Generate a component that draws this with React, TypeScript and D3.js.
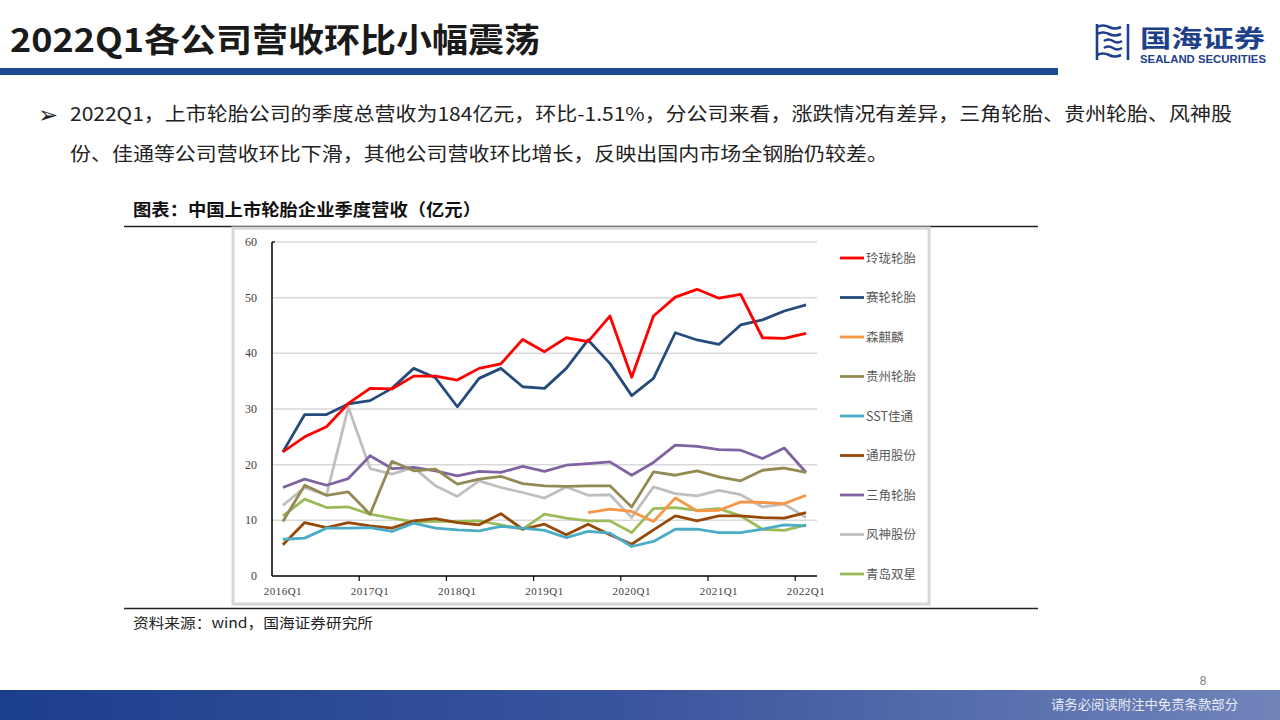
import React from "react";
import * as d3 from "d3";

const quarters: string[] = [
  "2016Q1","2016Q2","2016Q3","2016Q4",
  "2017Q1","2017Q2","2017Q3","2017Q4",
  "2018Q1","2018Q2","2018Q3","2018Q4",
  "2019Q1","2019Q2","2019Q3","2019Q4",
  "2020Q1","2020Q2","2020Q3","2020Q4",
  "2021Q1","2021Q2","2021Q3","2021Q4",
  "2022Q1",
];
const xTickLabels: string[] = ["2016Q1","2017Q1","2018Q1","2019Q1","2020Q1","2021Q1","2022Q1"];
const yTicks: number[] = [0, 10, 20, 30, 40, 50, 60];

const linglong: (number | null)[] = [22.3,25.0,26.8,31.0,33.7,33.6,35.9,35.9,35.2,37.3,38.1,42.5,40.3,42.8,42.1,46.7,35.7,46.7,50.1,51.5,49.9,50.6,42.8,42.7,43.6];
const sailun: (number | null)[] = [22.3,29.0,29.0,30.9,31.5,33.7,37.3,35.6,30.4,35.5,37.3,34.0,33.7,37.3,42.4,38.2,32.4,35.5,43.7,42.4,41.6,45.1,46.0,47.6,48.7];
const senqilin: (number | null)[] = [null,null,null,null,null,null,null,null,null,null,null,null,null,null,11.4,12.0,11.6,9.8,14.0,11.7,11.8,13.3,13.2,13.0,14.5];
const guizhou: (number | null)[] = [9.8,16.3,14.5,15.1,11.1,20.6,18.9,19.2,16.5,17.4,17.9,16.6,16.2,16.1,16.2,16.2,12.4,18.7,18.1,18.9,17.8,17.1,19.0,19.4,18.6];
const jiatong: (number | null)[] = [6.6,6.8,8.6,8.6,8.7,8.0,9.5,8.6,8.3,8.1,8.9,8.6,8.2,6.9,8.0,7.7,5.3,6.2,8.4,8.4,7.8,7.8,8.4,9.2,9.0];
const tongyong: (number | null)[] = [5.6,9.6,8.7,9.6,9.0,8.6,9.9,10.3,9.6,9.2,11.2,8.4,9.3,7.4,9.3,7.4,5.7,8.3,10.8,9.9,10.8,10.8,10.5,10.4,11.4];
const sanjiao: (number | null)[] = [15.9,17.4,16.3,17.5,21.6,19.3,19.5,18.9,18.0,18.8,18.6,19.7,18.8,19.9,20.2,20.5,18.1,20.4,23.5,23.3,22.7,22.6,21.1,23.0,18.6];
const fengshen: (number | null)[] = [12.7,15.9,14.5,30.3,19.3,18.3,19.5,16.2,14.3,17.1,15.9,15.0,14.0,16.0,14.5,14.6,10.5,16.0,14.8,14.4,15.4,14.6,12.4,12.9,10.5];
const shuangxing: (number | null)[] = [10.8,13.8,12.3,12.4,11.1,10.4,9.7,9.8,9.8,9.9,9.2,8.4,11.1,10.4,9.9,9.9,7.8,12.1,12.3,11.8,12.1,10.8,8.4,8.2,9.2];

const seriesNames: string[] = ["玲珑轮胎","赛轮轮胎","森麒麟","贵州轮胎","SST佳通","通用股份","三角轮胎","风神股份","青岛双星"];
const seriesValues = [linglong, sailun, senqilin, guizhou, jiatong, tongyong, sanjiao, fengshen, shuangxing];
const seriesColors: string[] = ["#ff0000","#254b7b","#f79646","#948a54","#4bacc6","#984807","#8064a2","#bfbfbf","#9bbb59"];
// drawing order (back to front)
const drawOrder: number[] = [8, 7, 6, 5, 4, 3, 2, 1, 0];

const CJK = '"Noto Sans CJK SC", "Noto Sans", sans-serif';
const SERIF = '"Liberation Serif", "DejaVu Serif", serif';

export default function App() {
  const x = d3.scaleBand<string>().domain(quarters).range([272, 817]).paddingInner(0).paddingOuter(0);
  const y = d3.scaleLinear().domain([0, 60]).range([576, 242]);
  const cx = (q: string) => (x(q) as number) + x.bandwidth() / 2;

  const line = d3
    .line<number | null>()
    .defined((d) => d !== null)
    .x((_, i) => cx(quarters[i]))
    .y((d) => y(d as number));

  const tickBoundaries = quarters
    .map((q, i) => ({ q, i }))
    .filter((d) => d.i > 0 && d.i % 4 === 0)
    .map((d) => x(d.q) as number);

  const legendY0 = 258;
  const legendStep = 39.5;

  return (
    <svg width={1280} height={720} style={{ position: "absolute", left: 0, top: 0 }}>
      <defs>
        <linearGradient id="footGrad" x1="0" x2="1" y1="0" y2="0">
          <stop offset="0" stopColor="#1c3f8c" />
          <stop offset="0.5" stopColor="#3a559e" />
          <stop offset="1" stopColor="#7184ba" />
        </linearGradient>
      </defs>
      <rect x={0} y={0} width={1280} height={720} fill="#ffffff" />

      {/* Title */}
      <text x={10} y={52} fontFamily={CJK} fontWeight={700} fontSize={33} fill="#1a1a1a" textLength={530} lengthAdjust="spacingAndGlyphs">
        2022Q1各公司营收环比小幅震荡
      </text>
      <rect x={0} y={68} width={1058} height={7} fill="#1e4a94" />

      {/* Logo */}
      <g fill="none" stroke="#1e3f8a" strokeWidth={2.6}>
        <path d="M1097,27 q6,-3 12,0 q6,3 12,0" />
        <path d="M1097,34 q6,-3 12,0 q6,3 12,0" />
        <path d="M1104,41 q4,-3 9,0 q4,3 9,0" />
        <path d="M1104,48 q4,-3 9,0 q4,3 9,0" />
        <path d="M1097,55 q6,-3 12,0 q6,3 12,0" />
        <path d="M1097,24 v36" />
        <path d="M1128,24 v36" />
      </g>
      <text x={1140} y={47} fontFamily={CJK} fontWeight={700} fontSize={24} fill="#1e3f8a" textLength={125} lengthAdjust="spacingAndGlyphs">
        国海证券
      </text>
      <text x={1140} y={63} fontFamily='"Liberation Sans", Arial, sans-serif' fontWeight={700} fontSize={10} fill="#1e3f8a" textLength={126} lengthAdjust="spacingAndGlyphs">
        SEALAND SECURITIES
      </text>

      {/* Bullet text */}
      <text x={38} y={123} fontFamily='"DejaVu Sans", sans-serif' fontWeight={700} fontSize={24} fill="#222">➢</text>
      <text x={70} y={121} fontFamily={CJK} fontSize={19} fill="#222" textLength={1162} lengthAdjust="spacingAndGlyphs">
        2022Q1，上市轮胎公司的季度总营收为184亿元，环比-1.51%，分公司来看，涨跌情况有差异，三角轮胎、贵州轮胎、风神股
      </text>
      <text x={70} y={161} fontFamily={CJK} fontSize={19} fill="#222" textLength={818} lengthAdjust="spacingAndGlyphs">
        份、佳通等公司营收环比下滑，其他公司营收环比增长，反映出国内市场全钢胎仍较差。
      </text>

      {/* Caption */}
      <text x={133} y={216} fontFamily={CJK} fontWeight={700} fontSize={17} fill="#111" textLength={348} lengthAdjust="spacingAndGlyphs">
        图表：中国上市轮胎企业季度营收（亿元）
      </text>
      <line x1={124} x2={1038} y1={226.5} y2={226.5} stroke="#222" strokeWidth={1.5} />

      {/* Chart frame */}
      <rect x={233} y={228} width={696} height={376} fill="#ffffff" stroke="#d6d6d6" strokeWidth={3} />

      {/* Gridlines */}
      {yTicks.filter((t) => t > 0).map((t) => (
        <line key={"g" + t} x1={272} x2={817} y1={y(t)} y2={y(t)} stroke="#d9d9d9" strokeWidth={1.5} />
      ))}

      {/* Y labels */}
      {yTicks.map((t) => (
        <text key={"yl" + t} x={257} y={y(t) + 4} textAnchor="end" fontFamily={SERIF} fontSize={12} fill="#404040">
          {t}
        </text>
      ))}

      {/* Axes */}
      <line x1={272} x2={272} y1={242} y2={576} stroke="#000" strokeWidth={1.5} />
      <line x1={272} x2={275} y1={242} y2={242} stroke="#000" strokeWidth={1.2} />
      <line x1={272} x2={817} y1={576} y2={576} stroke="#000" strokeWidth={1.5} />
      {tickBoundaries.map((bx, i) => (
        <line key={"xt" + i} x1={bx} x2={bx} y1={576} y2={581} stroke="#000" strokeWidth={1.2} />
      ))}
      {xTickLabels.map((q) => (
        <text key={"xl" + q} x={cx(q)} y={595} textAnchor="middle" fontFamily={SERIF} fontSize={11} fill="#404040" letterSpacing={0.5}>
          {q}
        </text>
      ))}

      {/* Series */}
      {drawOrder.map((si) => (
        <path
          key={"s" + si}
          d={line(seriesValues[si]) || ""}
          fill="none"
          stroke={seriesColors[si]}
          strokeWidth={2.8}
          strokeLinejoin="round"
        />
      ))}

      {/* Legend */}
      {seriesNames.map((name, i) => (
        <g key={"lg" + i}>
          <line x1={840} x2={864} y1={legendY0 + i * legendStep} y2={legendY0 + i * legendStep} stroke={seriesColors[i]} strokeWidth={2.8} />
          <text x={866} y={legendY0 + i * legendStep + 4.5} fontFamily={CJK} fontSize={12.5} fill="#595959">
            {name}
          </text>
        </g>
      ))}

      {/* Bottom rule and source */}
      <line x1={124} x2={1038} y1={608.5} y2={608.5} stroke="#222" strokeWidth={1.5} />
      <text x={133} y={628} fontFamily={CJK} fontSize={14} fill="#222" textLength={240} lengthAdjust="spacingAndGlyphs">
        资料来源：wind，国海证券研究所
      </text>

      {/* Footer */}
      <text x={1203} y={685} textAnchor="middle" fontFamily='"Liberation Sans", Arial, sans-serif' fontSize={12} fill="#7f7f7f">
        8
      </text>
      <rect x={0} y={690} width={1280} height={30} fill="url(#footGrad)" />
      <text x={1051} y={709} fontFamily={CJK} fontSize={13} fill="#e8ecf6" textLength={187} lengthAdjust="spacingAndGlyphs">
        请务必阅读附注中免责条款部分
      </text>
    </svg>
  );
}
